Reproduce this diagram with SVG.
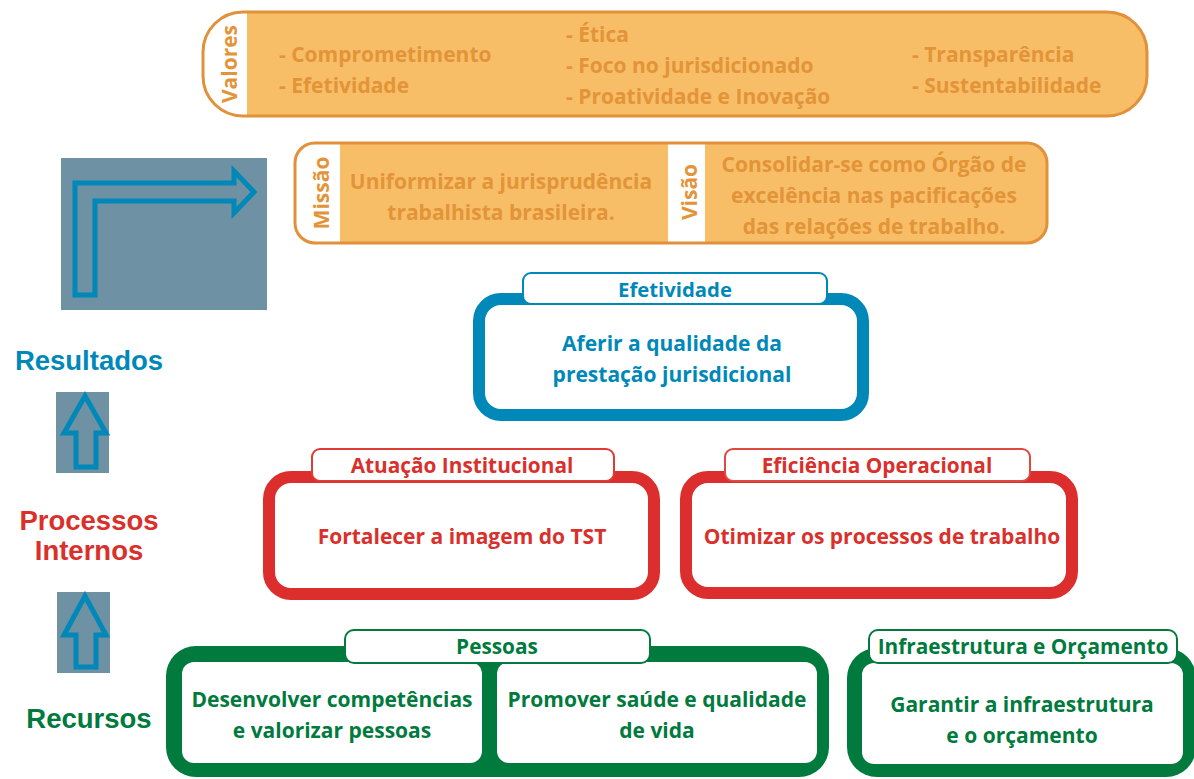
<svg xmlns="http://www.w3.org/2000/svg" width="1194" height="779" viewBox="0 0 1194 779">
<defs>
<style>
.t{font-family:"Open Sans","Noto Sans",sans-serif;font-weight:700;}
.o{fill:#E39438;font-size:21px;}
.blue{fill:#0088B9;}
.red{fill:#D9302C;}
.green{fill:#007A3D;}
.lbl{font-family:"Liberation Sans",Arial,sans-serif;font-weight:700;font-size:27.5px;text-anchor:middle;}
.arr{fill:none;stroke:#0088B9;stroke-width:5;stroke-linejoin:miter;}
.bg{fill:#6E91A3;}
.tab{fill:#fff;stroke-width:2;}
.body{font-size:21px;text-anchor:middle;}
.tabt{font-size:20.8px;text-anchor:middle;}
</style>
<clipPath id="cv"><rect x="203" y="12" width="944" height="104" rx="40"/></clipPath>
<clipPath id="cm"><rect x="295" y="143" width="752" height="100" rx="20"/></clipPath>
</defs>
<rect width="1194" height="779" fill="#fff"/>

<g id="valores">
<rect x="203" y="12" width="944" height="104" rx="40" fill="#F7BE67"/>
<rect x="200" y="10" width="47" height="110" fill="#fff" clip-path="url(#cv)"/>
<rect x="203" y="12" width="944" height="104" rx="40" fill="none" stroke="#E0913A" stroke-width="3"/>
<text class="t o" transform="translate(237,64) rotate(-90)" text-anchor="middle" font-size="20">Valores</text>
<text class="t o" x="279" y="62">- Comprometimento</text>
<text class="t o" x="279" y="93">- Efetividade</text>
<text class="t o" x="566" y="42">- Ética</text>
<text class="t o" x="566" y="73">- Foco no jurisdicionado</text>
<text class="t o" x="566" y="104">- Proatividade e Inovação</text>
<text class="t o" x="912" y="62">- Transparência</text>
<text class="t o" x="912" y="93">- Sustentabilidade</text>
</g>

<g id="missao-visao">
<rect x="295" y="143" width="752" height="100" rx="20" fill="#F7BE67"/>
<rect x="290" y="140" width="50" height="106" fill="#fff" clip-path="url(#cm)"/>
<rect x="668" y="144" width="37" height="98" fill="#fff"/>
<rect x="295" y="143" width="752" height="100" rx="20" fill="none" stroke="#E0913A" stroke-width="3"/>
<text class="t o" transform="translate(329,193) rotate(-90)" text-anchor="middle" font-size="20">Missão</text>
<text class="t o" transform="translate(697,192) rotate(-90)" text-anchor="middle" font-size="20">Visão</text>
<text class="t o" x="501" y="189" text-anchor="middle">Uniformizar a jurisprudência</text>
<text class="t o" x="501" y="220" text-anchor="middle">trabalhista brasileira.</text>
<text class="t o" x="874" y="172" text-anchor="middle">Consolidar-se como Órgão de</text>
<text class="t o" x="874" y="203" text-anchor="middle">excelência nas pacificações</text>
<text class="t o" x="874" y="234" text-anchor="middle">das relações de trabalho.</text>
</g>

<g id="seta-topo">
<rect class="bg" x="61" y="158" width="206" height="152"/>
<path class="arr" d="M75,295 L75,183 L234,183 L234,171 L254,192 L234,213 L234,201 L95,201 L95,295 Z"/>
</g>

<g id="perspectivas">
<text class="lbl blue" x="89" y="370">Resultados</text>
<text class="lbl red" x="89" y="530">Processos</text>
<text class="lbl red" x="89" y="560">Internos</text>
<text class="lbl green" x="89" y="728">Recursos</text>
</g>

<g id="connectors">
<rect class="bg" x="56" y="392" width="53" height="81"/>
<path class="arr" d="M85,396 L106,433 L96,433 L96,467 L76,467 L76,433 L64,433 Z"/>
<rect class="bg" x="57" y="592" width="53" height="81"/>
<path class="arr" d="M85,596 L106,635 L96,635 L96,667 L76,667 L76,635 L64,635 Z"/>
</g>

<g id="efetividade">
<rect x="479" y="299" width="384" height="116" rx="22" fill="#fff" stroke="#0088B9" stroke-width="12"/>
<rect x="490" y="409" width="362" height="4" fill="#0088B9"/>
<rect class="tab" x="523" y="273" width="304" height="31" rx="8" stroke="#0088B9"/>
<text class="t blue" x="675" y="297" text-anchor="middle" font-size="20.3">Efetividade</text>
<text class="t body blue" x="672" y="351">Aferir a qualidade da</text>
<text class="t body blue" x="672" y="382">prestação jurisdicional</text>
</g>

<g id="atuacao">
<rect x="269" y="477" width="385" height="117" rx="22" fill="#fff" stroke="#DC2E2D" stroke-width="12"/>
<rect class="tab" x="312" y="449" width="302" height="32" rx="8" stroke="#DF3B35"/>
<text class="t tabt red" x="462" y="473">Atuação Institucional</text>
<text class="t body red" x="462" y="544">Fortalecer a imagem do TST</text>
</g>

<g id="eficiencia">
<rect x="686" y="477" width="386" height="116" rx="22" fill="#fff" stroke="#DC2E2D" stroke-width="12"/>
<rect class="tab" x="725" y="449" width="305" height="32" rx="8" stroke="#DF4A40"/>
<text class="t tabt red" x="877" y="473">Eficiência Operacional</text>
<text class="t body red" x="882" y="544">Otimizar os processos de trabalho</text>
</g>

<g id="pessoas">
<rect x="166" y="646" width="663" height="131" rx="30" fill="#007A3D"/>
<rect x="182" y="662" width="300" height="101" rx="12" fill="#fff"/>
<rect x="497" y="662" width="320" height="101" rx="12" fill="#fff"/>
<rect class="tab" x="345" y="630" width="305" height="33" rx="9" stroke="#007A3D"/>
<text class="t tabt green" x="497" y="654">Pessoas</text>
<text class="t body green" x="332" y="707">Desenvolver competências</text>
<text class="t body green" x="332" y="738">e valorizar pessoas</text>
<text class="t body green" x="657" y="707">Promover saúde e qualidade</text>
<text class="t body green" x="657" y="738">de vida</text>
</g>

<g id="infraestrutura">
<rect x="847" y="648" width="349" height="129" rx="30" fill="#007A3D"/>
<rect x="862" y="663" width="321" height="101" rx="12" fill="#fff"/>
<rect class="tab" x="869" y="630" width="308" height="33" rx="9" stroke="#007A3D"/>
<text class="t tabt green" x="1023" y="654">Infraestrutura e Orçamento</text>
<text class="t body green" x="1022" y="712">Garantir a infraestrutura</text>
<text class="t body green" x="1022" y="743">e o orçamento</text>
</g>
</svg>
